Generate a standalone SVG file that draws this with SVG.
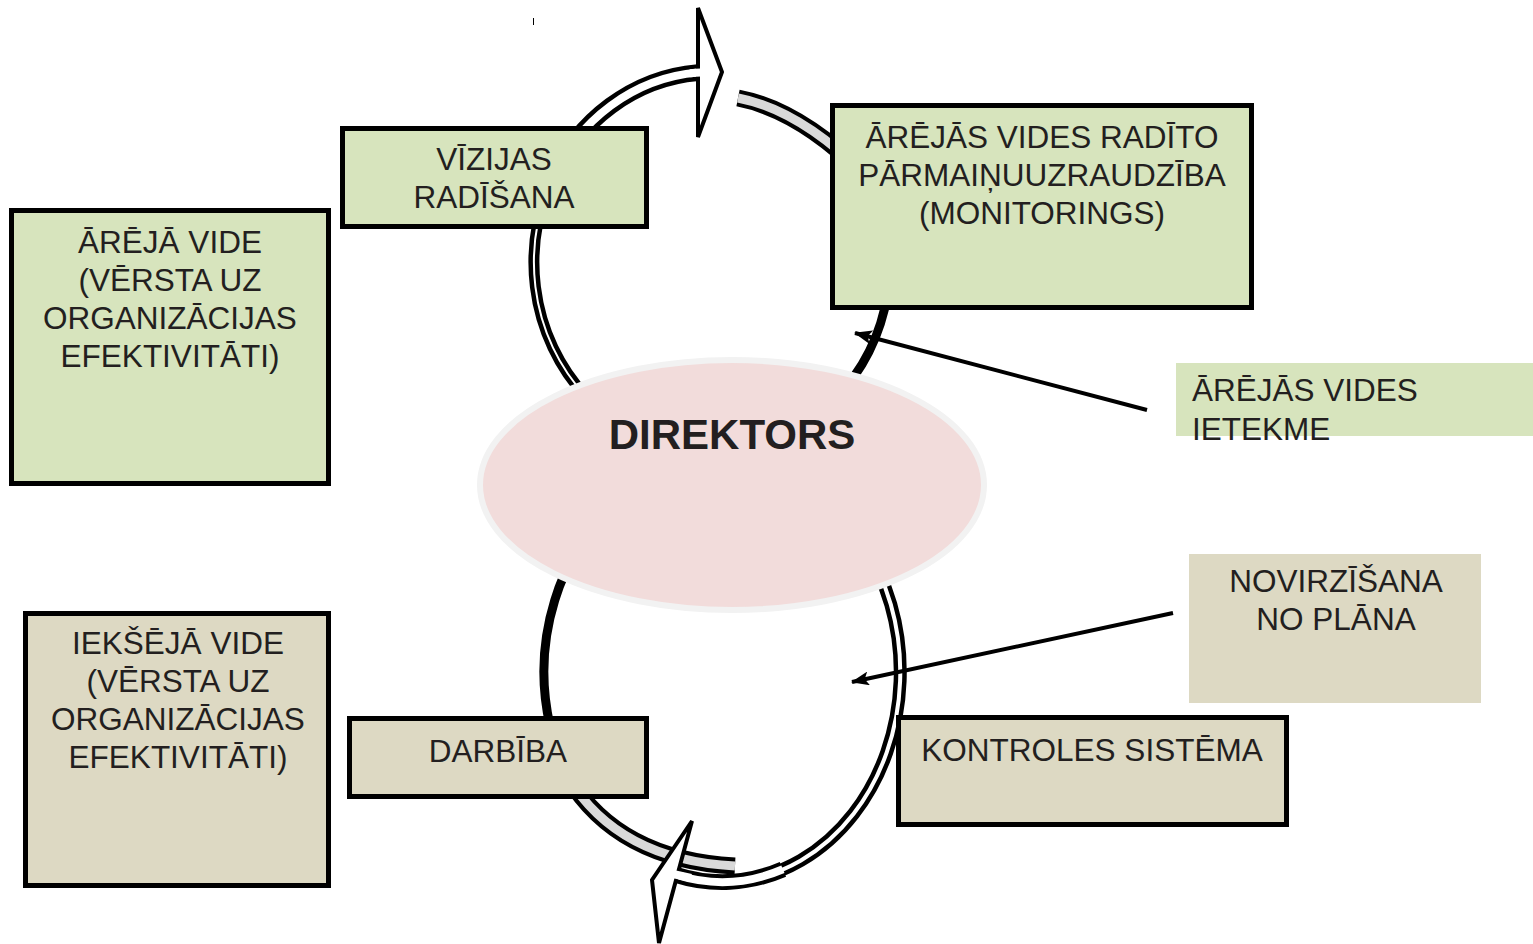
<svg xmlns="http://www.w3.org/2000/svg" width="1533" height="944" viewBox="0 0 1533 944">
<style>
.t{font-family:"Liberation Sans",Arial,sans-serif;font-size:31.5px;fill:#231F20;}
.c{text-anchor:middle;}
.g{fill:#D7E4BD;}
.n{fill:#DDD9C3;}
.b{stroke:#000;stroke-width:5;}
.ob{fill:none;stroke:#000;}
.ow{fill:none;stroke:#fff;}
.og{fill:none;stroke:#D9D9D9;}
.conn{fill:none;stroke:#000;stroke-width:4;}
</style>
<defs>
<marker id="ah" markerUnits="userSpaceOnUse" viewBox="0 0 18 14" markerWidth="18" markerHeight="14" refX="17" refY="7" orient="auto">
<path d="M0,0 L18,7 L0,14 L4,7 Z" fill="#000"/>
</marker>
</defs>
<rect width="1533" height="944" fill="#fff"/>
<line x1="533.5" y1="18" x2="533.5" y2="25" stroke="#000" stroke-width="1"/>
<g id="cycle-top">
<path class="ob" stroke-width="9" d="M889.3,278.6 A178,190 0 0,1 844.3,389.1"/>
<path class="ob" stroke-width="17" d="M738,98 Q800,110 865,175"/>
<path class="og" stroke-width="9" d="M738,98 Q800,110 865,175"/>
<path class="ob" stroke-width="11" d="M586,396.4 A178,190 0 0,1 557.8,167"/>
<path class="ow" stroke-width="2" d="M586,396.4 A178,190 0 0,1 557.8,167"/>
<path class="ob" stroke-width="17" d="M550.7,181.7 A178,190 0 0,1 698,72.6"/>
<path class="ow" stroke-width="8" d="M550.7,181.7 A178,190 0 0,1 698,72.6"/>
<polygon points="698,8 722,72 698,137" fill="#fff" stroke="#000" stroke-width="4" stroke-linejoin="miter"/>
<path class="ow" stroke-width="8" d="M690,73.3 A178,190 0 0,1 701.1,72.4"/>
</g>
<g id="cycle-bottom">
<path class="ob" stroke-width="9" d="M550.1,726.4 A178,210 0 0,1 619.9,500"/>
<path class="ob" stroke-width="13" d="M811,490 A178,210 0 0,1 675.9,874.8"/>
<path class="ob" stroke-width="16" d="M782.9,869.3 A178,210 0 0,1 675.9,874.8"/>
<path class="ow" stroke-width="4" d="M811,490 A178,210 0 0,1 675.9,874.8"/>
<path class="ow" stroke-width="8" d="M782.9,869.3 A178,210 0 0,1 675.9,874.8"/>
<path class="ob" stroke-width="17" d="M567.8,777 C600,830 655,862 735,866"/>
<path class="og" stroke-width="9" d="M567.8,777 C600,830 655,862 735,866"/>
<polygon points="692,821 652,880 659,943" fill="#fff" stroke="#000" stroke-width="4" stroke-linejoin="miter"/>
<path class="ow" stroke-width="8" d="M691,878 L673,874"/>
</g>
<g id="node-areja-vide">
<rect class="g b" x="11.5" y="210.5" width="317" height="273"/>
<text class="t c" x="170" y="253">ĀRĒJĀ VIDE</text>
<text class="t c" x="170" y="291">(VĒRSTA UZ</text>
<text class="t c" x="170" y="329">ORGANIZĀCIJAS</text>
<text class="t c" x="170" y="367">EFEKTIVITĀTI)</text>
</g>
<g id="node-vizijas">
<rect class="g b" x="342.5" y="128.5" width="304" height="98"/>
<text class="t c" x="494" y="170">VĪZIJAS</text>
<text class="t c" x="494" y="208">RADĪŠANA</text>
</g>
<g id="node-monitorings">
<rect class="g b" x="832.5" y="105.5" width="419" height="202"/>
<text class="t c" x="1042" y="148">ĀRĒJĀS VIDES RADĪTO</text>
<text class="t c" x="1042" y="186">PĀRMAIŅUUZRAUDZĪBA</text>
<text class="t c" x="1042" y="224">(MONITORINGS)</text>
</g>
<g id="node-ietekme">
<rect class="g" x="1176" y="363" width="357" height="73"/>
<text class="t" x="1192" y="401">ĀRĒJĀS VIDES</text>
<text class="t" x="1192" y="440">IETEKME</text>
</g>
<g id="node-ieksja-vide">
<rect class="n b" x="25.5" y="613.5" width="303" height="272"/>
<text class="t c" x="178" y="654">IEKŠĒJĀ VIDE</text>
<text class="t c" x="178" y="692">(VĒRSTA UZ</text>
<text class="t c" x="178" y="730">ORGANIZĀCIJAS</text>
<text class="t c" x="178" y="768">EFEKTIVITĀTI)</text>
</g>
<g id="node-darbiba">
<rect class="n b" x="349.5" y="718.5" width="297" height="78"/>
<text class="t c" x="498" y="762">DARBĪBA</text>
</g>
<g id="node-kontroles">
<rect class="n b" x="898.5" y="717.5" width="388" height="107"/>
<text class="t c" x="1092" y="761">KONTROLES SISTĒMA</text>
</g>
<g id="node-novirzisana">
<rect class="n" x="1189" y="554" width="292" height="149"/>
<text class="t c" x="1336" y="592">NOVIRZĪŠANA</text>
<text class="t c" x="1336" y="630">NO PLĀNA</text>
</g>
<g id="node-direktors">
<ellipse cx="732" cy="485" rx="252" ry="125" fill="#F2DCDB" stroke="#F2F2F2" stroke-width="6"/>
<text x="732" y="449" text-anchor="middle" font-family="Liberation Sans,Arial,sans-serif" font-size="42" font-weight="bold" fill="#231F20">DIREKTORS</text>
</g>
<g id="connectors">
<line class="conn" x1="1147" y1="410" x2="855" y2="333" marker-end="url(#ah)"/>
<line class="conn" x1="1173" y1="613" x2="852" y2="682" marker-end="url(#ah)"/>
</g>
</svg>
